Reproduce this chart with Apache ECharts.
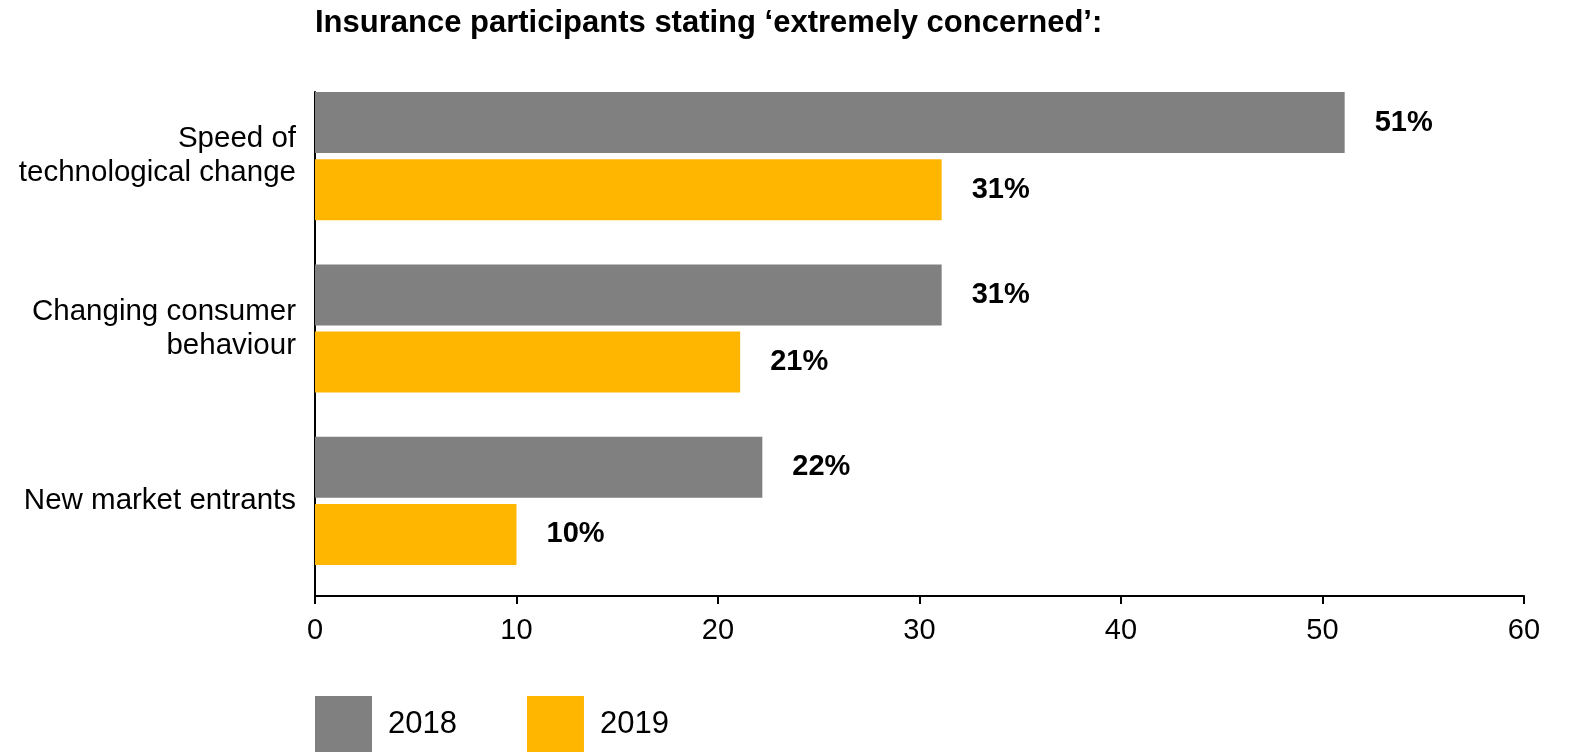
<!DOCTYPE html>
<html>
<head>
<meta charset="utf-8">
<script src="https://cdn.jsdelivr.net/npm/echarts@6/dist/echarts.min.js"></script>
<style>html,body{margin:0;padding:0;background:#fff}#c{width:1569px;height:752px}</style>
</head>
<body>
<div id="c"></div>
<script>
var categories = ['Speed of\ntechnological change', 'Changing consumer\nbehaviour', 'New market entrants'];
var seriesNames = ['2018', '2019'];
var values2018 = [51.1, 31.1, 22.2];
var values2019 = [31.1, 21.1, 10.0];
var xTicks = [0, 10, 20, 30, 40, 50, 60];

var FONT = '"Liberation Sans", Arial, Helvetica, sans-serif';
var chart = echarts.init(document.getElementById('c'));
var labelStyle = {
  show: true, position: 'right', distance: 30,
  formatter: function (p) { return Math.round(p.value) + '%'; },
  color: '#000', fontWeight: 'bold', fontSize: 29, fontFamily: FONT
};
chart.setOption({
  animation: false,
  textStyle: { fontFamily: FONT },
  title: {
    text: 'Insurance participants stating \u2018extremely concerned\u2019:',
    left: 315, top: 8, padding: 0,
    textStyle: { fontSize: 31, fontWeight: 'bold', color: '#000', fontFamily: FONT }
  },
  legend: {
    data: seriesNames, left: 315, top: 696, padding: 0, itemWidth: 57, itemHeight: 57, itemGap: 70,
    icon: 'rect',
    textStyle: { fontSize: 31, color: '#000', fontFamily: FONT, padding: [3, 0, 0, 11] }
  },
  grid: [
    { left: 315, right: 45, top: 70, bottom: 165 },
    { left: 315, right: 45, top: 92, bottom: 156 }
  ],
  xAxis: [
    { gridIndex: 0, type: 'value', min: xTicks[0], max: xTicks[xTicks.length - 1], interval: 10, show: false },
    { gridIndex: 1, type: 'value', min: xTicks[0], max: xTicks[xTicks.length - 1], interval: 10,
      axisLine: { show: true, lineStyle: { color: '#000', width: 2 } },
      axisTick: { show: true, length: 8, lineStyle: { color: '#000', width: 2 } },
      axisLabel: { fontSize: 29, color: '#000', margin: 20, fontFamily: FONT },
      splitLine: { show: false } }
  ],
  yAxis: [
    { gridIndex: 0, type: 'category', data: categories, inverse: true,
      axisLine: { show: false }, axisTick: { show: false },
      axisLabel: { fontSize: 29.5, color: '#000', margin: 19, lineHeight: 34, align: 'right', fontFamily: FONT } },
    { gridIndex: 1, type: 'value', min: 0, max: 1,
      axisLine: { show: true, lineStyle: { color: '#000', width: 2 } },
      axisTick: { show: false }, axisLabel: { show: false }, splitLine: { show: false } }
  ],
  series: [
    { name: seriesNames[0], type: 'bar', xAxisIndex: 0, yAxisIndex: 0, data: values2018,
      barWidth: 61, barGap: '10%', itemStyle: { color: '#808080' }, label: labelStyle },
    { name: seriesNames[1], type: 'bar', xAxisIndex: 0, yAxisIndex: 0, data: values2019,
      barWidth: 61, barGap: '10%', itemStyle: { color: '#FFB600' }, label: labelStyle }
  ]
});
</script>
</body>
</html>
